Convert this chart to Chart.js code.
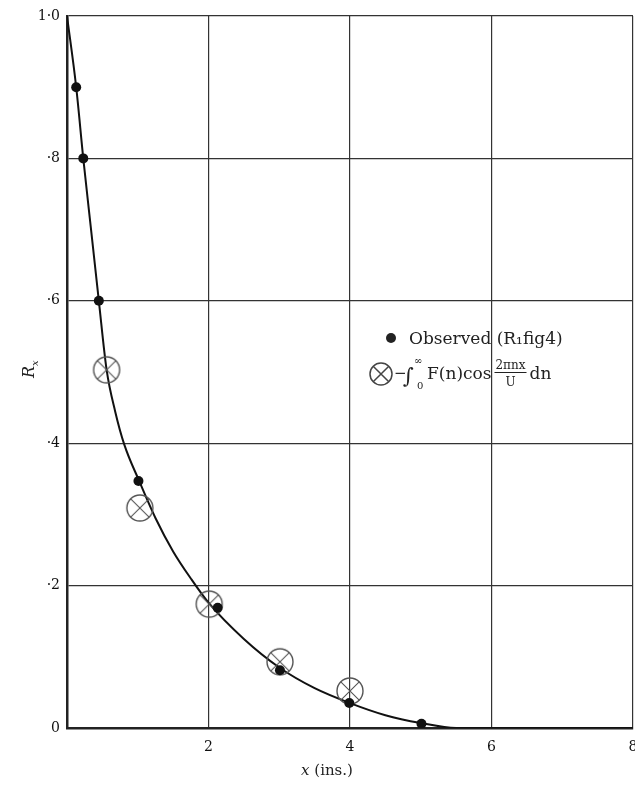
<!DOCTYPE html>
<html>
<head>
<meta charset="utf-8">
<script src="https://cdn.jsdelivr.net/npm/chart.js@4.4.1/dist/chart.umd.min.js"></script>
<style>
  body { margin: 0; background: #fff; }
  #wrap { width: 635px; height: 785px; }
</style>
</head>
<body>
<div id="wrap"><canvas id="chart" width="635" height="785"></canvas></div>
<script>
// observed points (filled dots)
const obsX = [0.13, 0.23, 0.45, 1.01, 2.13, 3.01, 3.99, 5.01];
const obsY = [0.90, 0.80, 0.60, 0.347, 0.169, 0.081, 0.035, 0.006];
// computed from the spectrum (crossed circles)
const calcX = [0.56, 1.03, 2.01, 3.01, 4.0];
const calcY = [0.503, 0.309, 0.174, 0.093, 0.052];
// smooth curve
const curveX = [0, 0.13, 0.23, 0.34, 0.45, 0.56, 0.68, 0.81, 1.02, 1.25, 1.5, 1.75, 2.0, 2.5, 3.0, 3.5, 4.0, 4.5, 5.0, 5.5, 6, 7, 8];
const curveY = [1.0, 0.90, 0.80, 0.70, 0.60, 0.503, 0.445, 0.398, 0.347, 0.295, 0.248, 0.21, 0.176, 0.125, 0.085, 0.056, 0.035, 0.018, 0.007, 0.0, 0, 0, 0];
const yTicks = [0, 0.2, 0.4, 0.6, 0.8, 1.0];
const xTicks = [0, 2, 4, 6, 8];

const pts = (xs, ys) => xs.map((x, i) => ({ x: x, y: ys[i] }));

// crossed circle marker
function crossCircle(r) {
    const c = document.createElement('canvas');
    const s = 2 * r + 4;
    c.width = s; c.height = s;
    const g = c.getContext('2d');
    const m = s / 2;
    g.strokeStyle = '#555';
    g.lineWidth = 1.4;
    g.beginPath();
    g.arc(m, m, r, 0, Math.PI * 2);
    g.stroke();
    const d = r * Math.SQRT1_2;
    g.lineWidth = 1.1;
    g.beginPath();
    g.moveTo(m - d, m - d); g.lineTo(m + d, m + d);
    g.moveTo(m + d, m - d); g.lineTo(m - d, m + d);
    g.stroke();
    return c;
}
const markerImg = crossCircle(13);

const serif = '"DejaVu Serif", serif';

const textPlugin = {
    id: 'texts',
    afterDatasetsDraw(chart) {
        const ctx = chart.ctx;
        ctx.save();
        ctx.fillStyle = '#222';
        ctx.textBaseline = 'alphabetic';

        // legend line 1
        ctx.beginPath();
        ctx.arc(391, 338, 5, 0, Math.PI * 2);
        ctx.fill();
        ctx.font = '17px ' + serif;
        ctx.fillText('Observed (R\u2081fig4)', 409, 344);

        // legend line 2
        ctx.strokeStyle = '#444';
        ctx.lineWidth = 1.5;
        ctx.beginPath();
        ctx.arc(381, 374, 11, 0, Math.PI * 2);
        ctx.moveTo(373.2, 366.2); ctx.lineTo(388.8, 381.8);
        ctx.moveTo(388.8, 366.2); ctx.lineTo(373.2, 381.8);
        ctx.stroke();
        ctx.font = '15px ' + serif;
        ctx.fillText('\u2212', 394, 378);
        ctx.font = '21px ' + serif;
        ctx.fillText('\u222B', 403, 383);
        ctx.font = '10px ' + serif;
        ctx.fillText('\u221E', 414, 364);
        ctx.fillText('0', 417, 389);
        ctx.font = '17px ' + serif;
        let px = 427;
        ctx.fillText('F(n)cos', px, 379);
        px += ctx.measureText('F(n)cos').width + 4;
        ctx.font = '12px ' + serif;
        const fw = ctx.measureText('2\u03C0nx').width;
        ctx.textAlign = 'center';
        ctx.fillText('2\u03C0nx', px + fw / 2, 369);
        ctx.fillText('U', px + fw / 2, 386);
        ctx.fillRect(px - 1, 372, fw + 2, 1);
        ctx.textAlign = 'left';
        ctx.font = '17px ' + serif;
        ctx.fillText('dn', px + fw + 4, 379);

        // x axis title
        ctx.font = 'italic 15px ' + serif;
        const w1 = ctx.measureText('x').width;
        ctx.font = '15px ' + serif;
        const w2 = ctx.measureText(' (ins.)').width;
        let x0 = 327 - (w1 + w2) / 2;
        ctx.font = 'italic 15px ' + serif;
        ctx.fillText('x', x0, 775);
        ctx.font = '15px ' + serif;
        ctx.fillText(' (ins.)', x0 + w1, 775);

        // y axis title
        ctx.translate(34, 370);
        ctx.rotate(-Math.PI / 2);
        ctx.font = 'italic 16px ' + serif;
        const rw = ctx.measureText('R').width;
        ctx.fillText('R', -8, 0);
        ctx.font = 'italic 10px ' + serif;
        ctx.fillText('x', -8 + rw, 4);
        ctx.restore();
    }
};

const ctx = document.getElementById('chart').getContext('2d');
new Chart(ctx, {
    type: 'scatter',
    data: {
        datasets: [
            {
                label: 'Observed',
                data: pts(obsX, obsY),
                pointRadius: 5,
                pointBackgroundColor: '#111',
                pointBorderWidth: 0,
                showLine: false
            },
            {
                label: 'Computed',
                data: pts(calcX, calcY),
                pointStyle: markerImg,
                pointRadius: 14,
                showLine: false
            },
            {
                label: 'Curve',
                data: pts(curveX, curveY),
                showLine: true,
                borderColor: '#111',
                borderWidth: 2,
                pointRadius: 0,
                cubicInterpolationMode: 'monotone',
                fill: false
            }
        ]
    },
    options: {
        responsive: false,
        animation: false,
        layout: { autoPadding: false, padding: { top: 16, right: 2, left: 0, bottom: 0 } },
        plugins: { legend: { display: false }, tooltip: { enabled: false } },
        scales: {
            x: {
                type: 'linear',
                min: 0, max: 8,
                afterBuildTicks: s => { s.ticks = xTicks.map(v => ({ value: v })); },
                afterFit: s => { s.height = 57; s.paddingLeft = 0; s.paddingRight = 0; },
                grid: { color: '#333', lineWidth: 1.2, drawTicks: false },
                border: { color: '#222', width: 2.5 },
                ticks: {
                    padding: 11,
                    color: '#111',
                    font: { family: serif, size: 14 },
                    callback: v => (v === 0 ? '' : String(v))
                }
            },
            y: {
                type: 'linear',
                min: 0, max: 1,
                afterBuildTicks: s => { s.ticks = yTicks.map(v => ({ value: v })); },
                afterFit: s => { s.width = 67; s.paddingTop = 0; s.paddingBottom = 0; },
                grid: { color: '#333', lineWidth: 1.2, drawTicks: false },
                border: { color: '#222', width: 2.5 },
                ticks: {
                    padding: 7,
                    color: '#111',
                    font: { family: serif, size: 14 },
                    callback: v => {
                        const t = Math.round(v * 10);
                        if (t === 0) return '0';
                        if (t === 10) return '1\u00B70';
                        return '\u00B7' + t;
                    }
                }
            }
        }
    },
    plugins: [textPlugin]
});
</script>
</body>
</html>
